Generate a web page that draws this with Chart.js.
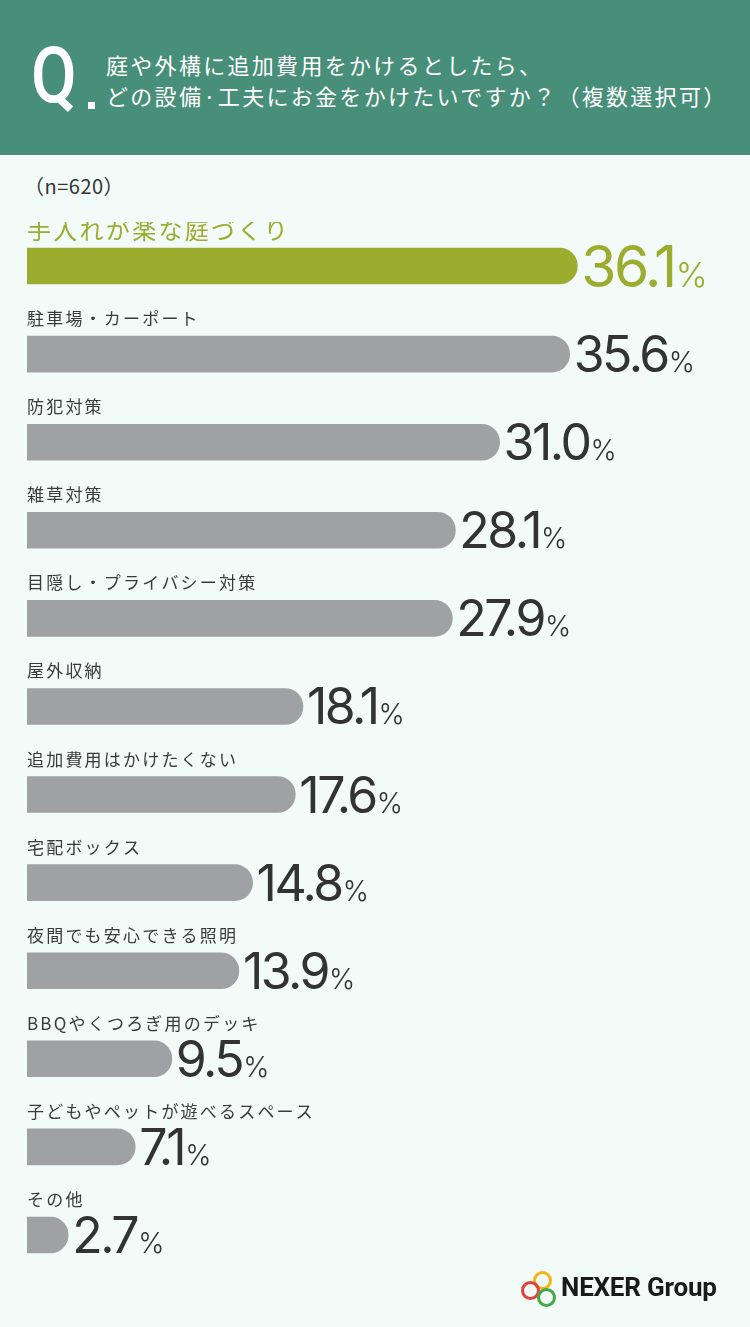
<!DOCTYPE html>
<html lang="ja">
<head>
<meta charset="UTF-8">
<title>庭や外構の追加費用</title>
<script src="https://cdn.jsdelivr.net/npm/chart.js"></script>
<style>
  body { margin: 0; width: 750px; height: 1327px; background: #f2fbf8; position: relative; overflow: hidden;
         font-family: "Noto Sans CJK JP", sans-serif; }
  .head { position: absolute; left: 0; top: 0; width: 750px; height: 155px; background: #478f78; }
  .q { position: absolute; left: 31px; top: 37px; color: #fff; font: 500 78px Roboto, sans-serif; line-height: 1; transform: scaleX(0.85); transform-origin: left; }
  .dot { position: absolute; left: 88px; top: 102px; width: 7px; height: 7px; background: #fff; }
  .ques { position: absolute; left: 106px; top: 49px; color: #fff; font-size: 22px; line-height: 31px; letter-spacing: 2.3px; white-space: nowrap; }
  .n { position: absolute; left: 24px; top: 171px; color: #333; font-size: 20px; letter-spacing: 0.5px; }
  .wrap { position: absolute; left: 0; top: 222px; width: 750px; height: 1057px; }
  .logo { position: absolute; left: 520px; top: 1270px; width: 215px; height: 40px; }
  .ring { position: absolute; width: 13px; height: 13px; border-radius: 50%; border: 3px solid; }
  .logo .txt { position: absolute; left: 41px; top: 2px; font: 700 26px Roboto, sans-serif; color: #1a1a1a; letter-spacing: -0.2px; white-space: nowrap; }
</style>
</head>
<body>
<div class="head">
  <div class="q">Q</div>
  <div class="dot"></div>
  <div class="ques">庭や外構に追加費用をかけるとしたら、<br>どの設備·工夫にお金をかけたいですか？（複数選択可）</div>
</div>
<div class="n">（n=620）</div>
<div class="wrap"><canvas id="c"></canvas></div>
<div class="logo">
  <div class="ring" style="left:13px;top:1px;border-color:#f3b41b"></div>
  <div class="ring" style="left:1px;top:11px;border-color:#e5413a"></div>
  <div class="ring" style="left:17px;top:18px;border-color:#43a847"></div>
  <div class="txt">NEXER Group</div>
</div>
<script>
// 回答項目と割合（%）
const labels = [
  "手入れが楽な庭づくり",
  "駐車場・カーポート",
  "防犯対策",
  "雑草対策",
  "目隠し・プライバシー対策",
  "屋外収納",
  "追加費用はかけたくない",
  "宅配ボックス",
  "夜間でも安心できる照明",
  "BBQやくつろぎ用のデッキ",
  "子どもやペットが遊べるスペース",
  "その他"
];
const values = [36.1, 35.6, 31.0, 28.1, 27.9, 18.1, 17.6, 14.8, 13.9, 9.5, 7.1, 2.7];

const GREEN = '#9cac2f';
const GREY = '#a0a1a5';
const DARK = '#333333';

// ラベルと数値を棒の位置から描く
const barText = {
  id: 'barText',
  afterDatasetsDraw(chart) {
    const ctx = chart.ctx;
    const meta = chart.getDatasetMeta(0);
    meta.data.forEach((bar, i) => {
      const top = bar.y - bar.height / 2;
      const first = i === 0;
      ctx.save();
      ctx.textAlign = 'left';
      ctx.textBaseline = 'alphabetic';
      // 項目名
      ctx.fillStyle = first ? GREEN : '#3a3a3a';
      ctx.font = first ? '400 24px "Noto Sans CJK JP"' : '400 17px "Noto Sans CJK JP"';
      ctx.letterSpacing = first ? '2.3px' : '2.2px';
      ctx.fillText(labels[i], bar.base, top - (first ? 9 : 11));
      // 数値
      const num = values[i].toFixed(1);
      ctx.fillStyle = first ? GREEN : DARK;
      ctx.font = first ? '400 57px Inter' : '400 50px Inter';
      ctx.letterSpacing = first ? '-2.5px' : '-2.5px';
      const x0 = bar.x + 4;
      const yb = bar.y + (first ? 21 : 18);
      ctx.fillText(num, x0, yb);
      const w = ctx.measureText(num).width;
      ctx.font = first ? '300 34px Inter' : '300 28px Inter';
      ctx.letterSpacing = '0px';
      ctx.fillText('%', x0 + w + 1, yb);
      ctx.restore();
    });
  }
};

new Chart(document.getElementById('c'), {
  type: 'bar',
  data: {
    labels: labels,
    datasets: [{
      data: values,
      backgroundColor: values.map((v, i) => i === 0 ? GREEN : GREY),
      barThickness: 36,
      borderRadius: 18,
      borderSkipped: 'start'
    }]
  },
  options: {
    indexAxis: 'y',
    responsive: true,
    maintainAspectRatio: false,
    animation: false,
    layout: { padding: { left: 27, right: 37, top: 0, bottom: 0 } },
    scales: {
      x: { display: false, min: 0, max: 45 },
      y: { display: false }
    },
    plugins: { legend: { display: false }, tooltip: { enabled: false } }
  },
  plugins: [barText]
});
</script>
</body>
</html>
